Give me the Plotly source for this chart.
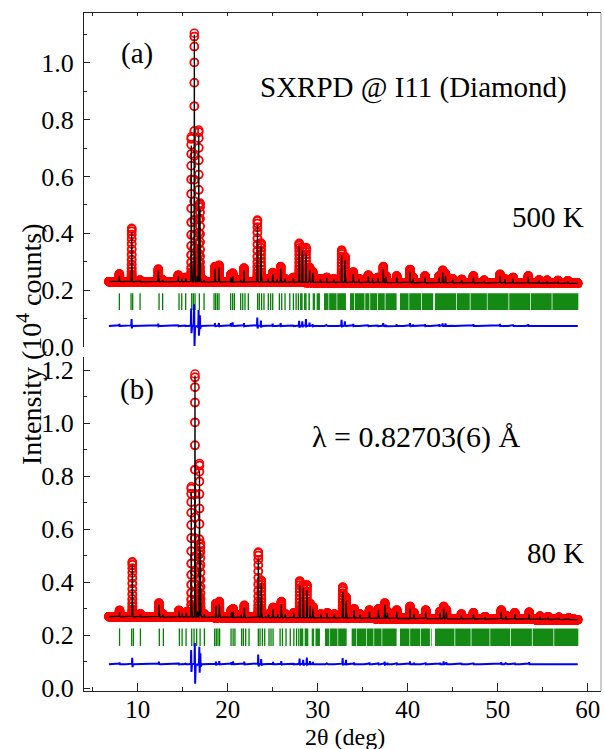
import numpy as np
import plotly.graph_objects as go

# ---------------- data ----------------
x_start, x_end = 6.8, 58.9

# 500 K panel (a): background level at start/end
bg_a = [0.230, 0.224]
peak_pos_a = [7.96, 9.33, 10.26, 12.29, 12.77, 14.51, 14.9, 15.33, 15.95, 16.29, 16.6, 16.78, 16.92,
              17.37, 18.59, 19.03, 20.35, 20.55, 21.44, 21.81, 23.3, 23.7, 24.5, 25.0, 25.5, 25.89,
              26.37, 27.3, 27.95, 28.3, 28.7, 29.1, 29.44, 30.3, 31.0, 31.8, 32.66, 33.03, 33.96,
              34.6, 35.62, 36.1, 36.7, 37.29, 37.6, 38.78, 40.26, 40.6, 41.92, 43.5, 43.89, 44.2,
              45.0, 46.0, 47.3, 48.5, 50.26, 50.8, 51.7, 53.4, 54.6, 55.5, 56.7, 57.8]
obs_a = [0.257, 0.418, 0.235, 0.274, 0.236, 0.253, 0.240, 0.245, 0.740, 1.105, 0.250, 0.764, 0.507,
         0.235, 0.283, 0.288, 0.255, 0.260, 0.238, 0.278, 0.447, 0.366, 0.240, 0.262, 0.240, 0.283,
         0.240, 0.245, 0.365, 0.350, 0.350, 0.280, 0.265, 0.240, 0.245, 0.240, 0.341, 0.318, 0.264,
         0.240, 0.253, 0.240, 0.245, 0.283, 0.250, 0.250, 0.273, 0.245, 0.250, 0.250, 0.270, 0.258,
         0.240, 0.238, 0.250, 0.235, 0.256, 0.240, 0.245, 0.250, 0.236, 0.235, 0.234, 0.233]
calc_a = [0.250, 0.405, 0.233, 0.268, 0.235, 0.250, 0.240, 0.243, 0.710, 1.100, 0.250, 0.746, 0.485,
          0.235, 0.275, 0.280, 0.245, 0.248, 0.236, 0.270, 0.430, 0.355, 0.240, 0.255, 0.240, 0.275,
          0.240, 0.243, 0.355, 0.340, 0.330, 0.270, 0.260, 0.238, 0.243, 0.238, 0.324, 0.305, 0.258,
          0.238, 0.250, 0.240, 0.243, 0.275, 0.248, 0.245, 0.265, 0.240, 0.245, 0.245, 0.262, 0.250,
          0.238, 0.236, 0.245, 0.233, 0.250, 0.238, 0.240, 0.245, 0.234, 0.233, 0.232, 0.231]
bragg_a = [7.96, 9.26, 9.44, 10.26, 12.37, 12.77, 14.59, 14.89, 15.33, 16.0, 16.18, 16.37, 16.85,
           17.37, 18.48, 18.66, 18.85, 19.03, 20.33, 20.55, 20.74, 21.44, 21.67, 21.92, 22.29,
           23.33, 23.51, 23.77, 24.03, 24.51, 24.77, 25.0, 25.74, 26.0, 26.37, 26.9, 27.3, 27.6, 27.85]
bands_a = [(28.03, 28.33), (28.47, 28.77), (28.96, 29.14), (29.44, 29.70), (29.88, 30.25),
           (30.70, 31.20), (31.27, 32.10), (32.17, 33.14),
           (33.59, 34.05), (34.13, 35.20), (35.28, 35.75), (35.83, 36.60), (36.68, 37.45),
           (37.53, 38.77), (39.14, 40.10), (40.17, 41.50), (41.58, 42.84),
           (43.03, 45.40), (45.48, 46.90), (46.98, 48.80), (48.87, 51.20), (51.28, 53.60),
           (53.68, 56.00), (56.08, 58.96)]
tick_y_a = [0.130, 0.189]
diff_off_a = 0.074

# 80 K panel (b)
bg_b = [0.270, 0.259]
peak_pos_b = [7.98, 9.40, 10.3, 12.36, 12.8, 14.58, 14.95, 15.4, 15.95, 16.36, 16.65, 16.86, 16.97,
              17.4, 18.7, 19.07, 20.4, 20.6, 21.5, 21.85, 23.4, 23.73, 24.55, 25.05, 25.55, 25.96,
              26.4, 27.35, 28.0, 28.4, 28.8, 29.15, 29.48, 30.35, 31.05, 31.85, 32.78, 33.15, 34.05,
              34.7, 35.75, 36.75, 37.45, 37.75, 38.78, 40.26, 40.7, 42.0, 43.6, 44.0, 44.3, 45.97,
              47.3, 48.6, 50.4, 50.9, 51.9, 53.5, 54.7, 55.6, 56.8, 57.9]
obs_b = [0.294, 0.477, 0.280, 0.322, 0.280, 0.294, 0.285, 0.288, 0.760, 1.185, 0.290, 0.848, 0.547,
         0.280, 0.320, 0.327, 0.295, 0.300, 0.280, 0.313, 0.514, 0.407, 0.280, 0.305, 0.280, 0.327,
         0.280, 0.285, 0.405, 0.390, 0.390, 0.320, 0.307, 0.280, 0.285, 0.280, 0.382, 0.344, 0.300,
         0.280, 0.295, 0.300, 0.322, 0.290, 0.295, 0.309, 0.285, 0.295, 0.290, 0.309, 0.295, 0.280,
         0.285, 0.270, 0.295, 0.275, 0.285, 0.287, 0.272, 0.270, 0.268, 0.265]
calc_b = [0.288, 0.466, 0.278, 0.315, 0.278, 0.290, 0.283, 0.285, 0.740, 1.180, 0.290, 0.820, 0.520,
          0.280, 0.312, 0.318, 0.288, 0.290, 0.278, 0.305, 0.490, 0.395, 0.280, 0.298, 0.280, 0.318,
          0.280, 0.283, 0.390, 0.380, 0.370, 0.310, 0.300, 0.278, 0.283, 0.278, 0.363, 0.330, 0.295,
          0.278, 0.290, 0.295, 0.315, 0.285, 0.290, 0.300, 0.280, 0.290, 0.285, 0.300, 0.288, 0.276,
          0.280, 0.268, 0.288, 0.272, 0.280, 0.280, 0.270, 0.268, 0.266, 0.263]
bragg_b = [7.98, 9.33, 9.52, 10.3, 12.4, 12.85, 14.63, 14.93, 15.37, 16.0, 16.26, 16.55, 16.93,
           17.41, 18.55, 18.73, 18.92, 19.1, 20.37, 20.6, 20.8, 21.55, 21.74, 22.0, 22.37,
           23.4, 23.59, 23.85, 24.11, 24.59, 24.81, 25.04, 25.82, 26.08, 26.48, 26.95, 27.35, 27.65, 27.9]
bands_b = [(28.03, 28.40), (28.55, 28.96), (29.33, 29.60), (29.75, 30.25),
           (30.81, 31.30), (31.37, 32.20), (32.27, 33.22),
           (33.77, 34.30), (34.37, 35.40), (35.47, 36.20), (36.27, 37.10), (37.17, 38.77),
           (39.14, 40.20), (40.27, 41.40), (41.47, 42.47), (42.58, 42.66),
           (43.03, 45.20), (45.28, 47.00), (47.08, 49.10), (49.17, 51.40), (51.48, 53.80),
           (53.88, 56.20), (56.28, 58.96)]
tick_y_b = [0.160, 0.226]
diff_off_b = 0.091

x_range = [4.03, 61.48]
x_tick_labels = ["10", "20", "30", "40", "50", "60"]

# ---------------- build profiles from the peak lists ----------------
SIG = 0.018
SHIFT = 0.0025


def profile(x, bg, pos, hts, shift=0.0):
    base = bg[0] + (bg[1] - bg[0]) * (x - x_start) / (x_end - x_start)
    y = base.copy()
    for p, h in zip(pos, hts):
        b_here = bg[0] + (bg[1] - bg[0]) * (p - x_start) / (x_end - x_start)
        y += (h - b_here) * np.exp(-0.5 * ((x - p - shift) / SIG) ** 2)
    return y


def grid(pos):
    g = np.arange(x_start, x_end + 1e-9, 0.005)
    keep = np.ones(g.size, dtype=bool)
    for p in pos:
        keep &= np.abs(g - p) > 4 * SIG
    parts = [g[keep]]
    for p in pos:
        parts.append(p + np.arange(-4 * SIG, 4 * SIG + 1e-9, 0.003))
    g = np.unique(np.concatenate(parts))
    return g[(g >= x_start) & (g <= x_end)]


FONT = "Liberation Serif"
fig = go.Figure()


def add_panel(xa, ya, bg, pos, obs, calc, bragg, bands, tick_y, off):
    x = grid(pos)
    yo = profile(x, bg, pos, obs)
    yc = profile(x, bg, pos, calc, SHIFT)
    yd = yo - yc + off
    fig.add_trace(go.Scatter(x=x, y=yo, mode="markers", xaxis=xa, yaxis=ya,
                             marker=dict(symbol="circle-open", size=8, color="red",
                                         line=dict(width=1.5, color="red")),
                             showlegend=False, hoverinfo="skip"))
    fig.add_trace(go.Scatter(x=x, y=yc, mode="lines", xaxis=xa, yaxis=ya,
                             line=dict(color="black", width=1.3), showlegend=False, hoverinfo="skip"))
    tx, ty = [], []
    for b in bragg:
        tx += [b, b, None]
        ty += [tick_y[0], tick_y[1], None]
    fig.add_trace(go.Scatter(x=tx, y=ty, mode="lines", xaxis=xa, yaxis=ya,
                             line=dict(color="rgb(0,128,0)", width=1.3), showlegend=False,
                             hoverinfo="skip"))
    bx, by = [], []
    for a, b in bands:
        bx += [a, b, b, a, a, None]
        by += [tick_y[0], tick_y[0], tick_y[1], tick_y[1], tick_y[0], None]
    fig.add_trace(go.Scatter(x=bx, y=by, mode="lines", fill="toself",
                             fillcolor="rgba(0,128,0,0.92)", xaxis=xa, yaxis=ya,
                             line=dict(color="rgba(0,128,0,0)", width=0), showlegend=False,
                             hoverinfo="skip"))
    fig.add_trace(go.Scatter(x=x, y=yd, mode="lines", xaxis=xa, yaxis=ya,
                             line=dict(color="blue", width=2), showlegend=False, hoverinfo="skip"))


add_panel("x", "y", bg_a, peak_pos_a, obs_a, calc_a, bragg_a, bands_a, tick_y_a, diff_off_a)
add_panel("x2", "y2", bg_b, peak_pos_b, obs_b, calc_b, bragg_b, bands_b, tick_y_b, diff_off_b)

axcol = "#222222"
tickfont = dict(family=FONT, size=26, color="black")

fig.update_layout(
    width=604, height=749,
    margin=dict(l=84, r=3, t=13, b=58),
    paper_bgcolor="white", plot_bgcolor="white",
    font=dict(family=FONT, color="black"),
    xaxis=dict(domain=[0, 1], anchor="y", side="top", range=x_range, showline=True,
               linecolor=axcol, linewidth=1, ticks="inside", tick0=0, dtick=5, ticklen=3,
               tickcolor=axcol, showticklabels=False, showgrid=False, zeroline=False),
    yaxis=dict(domain=[0.5074, 1], anchor="x", range=[0, 1.176], showline=True,
               linecolor=axcol, linewidth=1, ticks="inside", tickvals=[0, 0.2, 0.4, 0.6, 0.8, 1.0],
               ticktext=["0.0", "0.2", "0.4", "0.6", "0.8", "1.0"], ticklen=6, tickcolor=axcol,
               minor=dict(tickvals=[0.1, 0.3, 0.5, 0.7, 0.9, 1.1], ticklen=3, ticks="inside",
                          tickcolor=axcol),
               tickfont=tickfont, showgrid=False, zeroline=False, ticklabelstandoff=4),
    xaxis2=dict(domain=[0, 1], anchor="y2", range=x_range, showline=True, linecolor=axcol,
                linewidth=1, ticks="inside", tickvals=[10, 20, 30, 40, 50, 60],
                ticktext=x_tick_labels, ticklen=8, tickcolor=axcol,
                minor=dict(tickvals=[5, 15, 25, 35, 45, 55], ticklen=4, ticks="inside",
                           tickcolor=axcol),
                tickfont=dict(family=FONT, size=25, color="black"), showgrid=False,
                zeroline=False, ticklabelstandoff=-4),
    yaxis2=dict(domain=[0, 0.4926], anchor="x2", range=[-0.01, 1.249], showline=True,
                linecolor=axcol, linewidth=1, ticks="inside",
                tickvals=[0, 0.2, 0.4, 0.6, 0.8, 1.0, 1.2],
                ticktext=["0.0", "0.2", "0.4", "0.6", "0.8", "1.0", "1.2"], ticklen=6,
                tickcolor=axcol,
                minor=dict(tickvals=[0.1, 0.3, 0.5, 0.7, 0.9, 1.1], ticklen=3, ticks="inside",
                           tickcolor=axcol),
                tickfont=tickfont, showgrid=False, zeroline=False, ticklabelstandoff=4),
    shapes=[dict(type="line", xref="paper", yref="paper", x0=1, x1=1, y0=0, y1=1,
                 line=dict(color="#9a9a9a", width=1))],
)


def px_x(px):
    return (px - 84) / 517


def px_y(py):
    return (691 - py) / 678


ann_font = dict(family=FONT, size=29, color="black")
annotations = [
    dict(x=9.9, y=1.035, xref="x", yref="y", text="(a)", showarrow=False, font=ann_font),
    dict(x=40.6, y=0.912, xref="x", yref="y", text="SXRPD @ I11 (Diamond)", showarrow=False,
         font=ann_font),
    dict(x=55.6, y=0.458, xref="x", yref="y", text="500 K", showarrow=False, font=ann_font),
    dict(x=9.9, y=1.125, xref="x2", yref="y2", text="(b)", showarrow=False, font=ann_font),
    dict(x=40.9, y=0.947, xref="x2", yref="y2", text="λ = 0.82703(6) Å", showarrow=False,
         font=dict(family=FONT, size=30, color="black")),
    dict(x=56.4, y=0.509, xref="x2", yref="y2", text="80 K", showarrow=False, font=ann_font),
    dict(x=px_x(30), y=px_y(344), xref="paper", yref="paper",
         text="Intensity (10<sup>4</sup> counts)", showarrow=False, textangle=-90,
         xanchor="center", yanchor="middle", font=dict(family=FONT, size=28, color="black")),
    dict(x=px_x(345), y=px_y(737), xref="paper", yref="paper", text="2θ (deg)",
         showarrow=False, xanchor="center", yanchor="middle",
         font=dict(family=FONT, size=24, color="black")),
]
fig.update_layout(annotations=annotations)

fig.write_html("out.html")
